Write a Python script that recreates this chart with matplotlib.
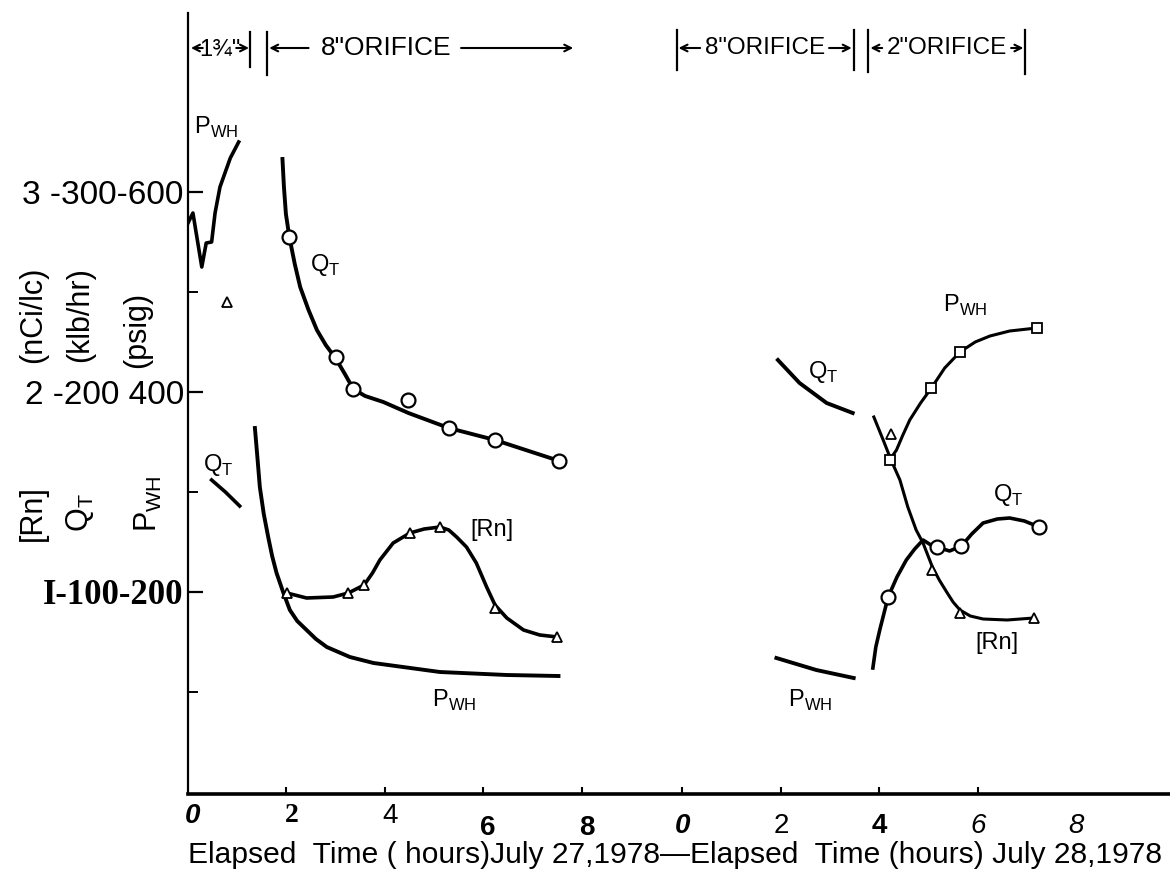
import matplotlib
matplotlib.use("Agg")
import matplotlib.pyplot as plt
from matplotlib import font_manager as fm

avail = {f.name for f in fm.fontManager.ttflist}
SANS = [f for f in ["Liberation Sans Narrow", "Liberation Sans", "DejaVu Sans"] if f in avail]
SERIF = [f for f in ["Liberation Serif", "DejaVu Serif"] if f in avail]
plt.rcParams["font.family"] = SANS
plt.rcParams["mathtext.fontset"] = "custom"

W, H = 1170, 877
DAY2 = 10.05  # position of hour 0 of July 28 on the continuous time axis

# ---------------- July 27 (hours, psig-scale values) ----------------
pwh_early_t = [0.00, 0.10, 0.28, 0.37, 0.48, 0.55, 0.65, 0.86, 1.03]
pwh_early_v = [569, 579, 525, 549, 550, 579, 605, 634, 650]
rn_early_t = [0.79]
rn_early_v = [490]
qt_early_t = [0.48, 0.76, 1.05]
qt_early_v = [312, 300, 286]

qt1_curve_t = [1.92, 1.95, 1.99, 2.06, 2.17, 2.28, 2.45, 2.62, 2.80, 3.01, 3.20, 3.36,
               3.60, 3.97, 4.48, 5.30, 6.24, 7.55]
qt1_curve_v = [633, 605, 578, 555, 528, 505, 482, 462, 447, 433, 417, 403,
               396, 390, 379, 364, 352, 331]
qt1_pts_t = [2.06, 3.01, 3.36, 4.48, 5.30, 6.24, 7.55]
qt1_pts_v = [555, 435, 403, 392, 364, 352, 331]

rn1_curve_t = [2.01, 2.41, 2.95, 3.26, 3.58, 3.75, 3.90, 4.17, 4.51, 4.80, 5.12, 5.30,
               5.46, 5.66, 5.86, 6.07, 6.24, 6.48, 6.82, 7.15, 7.51]
rn1_curve_v = [199, 194, 195, 199, 207, 219, 232, 249, 259, 263, 265, 262,
               255, 245, 229, 205, 187, 174, 162, 157, 155]
rn1_pts_t = [2.01, 3.26, 3.58, 4.51, 5.12, 6.24, 7.51]
rn1_pts_v = [199, 199, 207, 259, 265, 184, 155]

pwh1_curve_t = [1.36, 1.41, 1.46, 1.54, 1.63, 1.71, 1.80, 1.94, 2.07, 2.22, 2.41, 2.60,
                2.82, 3.29, 3.77, 5.12, 6.48, 7.53]
pwh1_curve_v = [364, 335, 305, 278, 255, 236, 219, 199, 182, 171, 162, 153,
                145, 135, 129, 120, 117, 116]

# ---------------- July 28 (hours of that day) ----------------
qt2a_t = [1.94, 2.38, 2.93, 3.46]
qt2a_v = [432, 409, 389, 379]
pwh2a_t = [1.91, 2.72, 3.48]
pwh2a_v = [134, 122, 114]

rn2_curve_t = [3.89, 4.08, 4.24, 4.42, 4.58, 4.75, 4.89, 5.08, 5.22, 5.37, 5.50, 5.64,
               5.85, 6.11, 6.60, 7.14]
rn2_curve_v = [375, 352, 332, 312, 285, 262, 249, 225, 212, 200, 190, 182,
               176, 173, 172, 174]
rn2_pts_t = [4.23, 5.08, 5.64, 7.14]
rn2_pts_v = [358, 222, 179, 174]

pwh2_curve_t = [4.21, 4.35, 4.48, 4.62, 4.84, 5.06, 5.33, 5.64, 5.95, 6.25, 6.65, 7.20]
pwh2_curve_v = [332, 342, 357, 372, 389, 404, 424, 440, 450, 456, 461, 464]
pwh2_pts_t = [4.21, 5.06, 5.64, 7.20]
pwh2_pts_v = [332, 404, 440, 464]

qt2_curve_t = [3.87, 3.93, 4.01, 4.18, 4.36, 4.55, 4.72, 4.89, 5.05, 5.17, 5.43, 5.67,
               5.88, 6.11, 6.40, 6.65, 6.95, 7.25]
qt2_curve_v = [124, 145, 162, 195, 215, 232, 243, 252, 247, 245, 241, 246,
               258, 269, 273, 274, 271, 265]
qt2_pts_t = [4.18, 5.17, 5.67, 7.25]
qt2_pts_v = [195, 245, 246, 265]

# axis labels / ticks
ytick_vals = [200, 400, 600]
ytick_labels = ["I-100-200", "2 -200 400", "3 -300-600"]
yminor_vals = [100, 300, 500]
xtick_day1 = [2, 4, 6, 8]
xtick_day2 = [0, 2, 4, 6]
xlab_day1 = ["0", "2", "4", "6", "8"]
xlab_day2 = ["0", "2", "4", "6", "8"]


def d2(ts):
    return [DAY2 + t for t in ts]


fig = plt.figure(figsize=(W / 100, H / 100), dpi=100)
ax = fig.add_axes([188 / W, 1 - 794 / H, 1 - 188 / W, (794 - 13) / H])
ax.set_xlim(0, (W - 188) / 49.2)
ax.set_ylim(-2, 779)
for s in ("top", "right"):
    ax.spines[s].set_visible(False)
ax.spines["left"].set_linewidth(1.6)
ax.spines["bottom"].set_linewidth(2.6)

K = "black"
mk = dict(color=K, linestyle="none", markerfacecolor="white", markeredgecolor=K, zorder=5)

# July 27 curves
ax.plot(pwh_early_t, pwh_early_v, color=K, lw=2.6)
ax.plot(rn_early_t, rn_early_v, marker="^", markersize=7, markeredgewidth=1.3, **mk)
ax.plot(qt_early_t, qt_early_v, color=K, lw=2.6)
ax.plot(qt1_curve_t, qt1_curve_v, color=K, lw=2.8)
ax.plot(qt1_pts_t, qt1_pts_v, marker="o", markersize=10, markeredgewidth=1.6, **mk)
ax.plot(rn1_curve_t, rn1_curve_v, color=K, lw=2.6)
ax.plot(rn1_pts_t, rn1_pts_v, marker="^", markersize=7, markeredgewidth=1.3, **mk)
ax.plot(pwh1_curve_t, pwh1_curve_v, color=K, lw=2.8)

# July 28 curves
ax.plot(d2(qt2a_t), qt2a_v, color=K, lw=2.8)
ax.plot(d2(pwh2a_t), pwh2a_v, color=K, lw=2.8)
ax.plot(d2(rn2_curve_t), rn2_curve_v, color=K, lw=2.2)
ax.plot(d2(rn2_pts_t), rn2_pts_v, marker="^", markersize=7, markeredgewidth=1.3, **mk)
ax.plot(d2(pwh2_curve_t), pwh2_curve_v, color=K, lw=2.2)
ax.plot(d2(pwh2_pts_t), pwh2_pts_v, marker="s", markersize=7, markeredgewidth=1.3, **mk)
ax.plot(d2(qt2_curve_t), qt2_curve_v, color=K, lw=2.6)
ax.plot(d2(qt2_pts_t), qt2_pts_v, marker="o", markersize=10, markeredgewidth=1.6, **mk)

# y ticks
ax.set_yticks(ytick_vals)
ax.set_yticklabels(ytick_labels, fontsize=24)
ax.set_yticks(yminor_vals, minor=True)
ax.tick_params(axis="y", which="major", direction="in", length=11, width=1.6, pad=3)
ax.tick_params(axis="y", which="minor", direction="in", length=7, width=1.4)
yl = ax.get_yticklabels()
yl[0].set_fontweight("bold")
yl[0].set_family(SERIF)
yl[0].set_fontsize(25)

# x ticks (marks only) and hand-lettered labels
ax.set_xticks(xtick_day1 + d2(xtick_day2))
ax.set_xticklabels([])
ax.tick_params(axis="x", direction="in", length=5, width=1.5)

x1_styles = [dict(style="italic", weight="bold"), dict(family=SERIF, weight="bold"), {},
             dict(weight="bold"), dict(weight="bold")]
x1_y = [-24, -24, -24, -36, -36]
x2_styles = [dict(style="italic", weight="bold"), {}, dict(weight="bold"),
             dict(style="italic"), dict(style="italic")]
for i, lab in enumerate(xlab_day1):
    ax.text(2 * i + 0.1, x1_y[i], lab, ha="center", va="center", fontsize=20,
            clip_on=False, **x1_styles[i])
for i, lab in enumerate(xlab_day2):
    ax.text(DAY2 + 2 * i, -34, lab, ha="center", va="center", fontsize=20,
            clip_on=False, **x2_styles[i])

ax.text(0, -63, "Elapsed  Time ( hours)July 27,1978\u2014Elapsed  Time (hours) July 28,1978",
        ha="left", va="center", fontsize=21.6, clip_on=False)


def ftext(px, py, s, **kw):
    fig.text(px / W, 1 - py / H, s, **kw)


PWH = r"P$_{\mathregular{WH}}$"
QT = r"Q$_{\mathregular{T}}$"

# rotated axis titles
ftext(33, 315, "(nCi/lc)", rotation=90, ha="center", va="center", fontsize=22)
ftext(80, 315, "(klb/hr)", rotation=90, ha="center", va="center", fontsize=22)
ftext(137, 330, "(psig)", rotation=90, ha="center", va="center", fontsize=22)
ftext(33, 513, "[Rn]", rotation=90, ha="center", va="center", fontsize=22)
ftext(80, 513, QT, rotation=90, ha="center", va="center", fontsize=22)
ftext(148, 504, PWH, rotation=90, ha="center", va="center", fontsize=22)

# in-plot curve labels
lab = dict(fontsize=17, ha="left", va="center")
ax.text(0.12, 665, PWH, **lab)
ax.text(0.31, 327, QT, **lab)
ax.text(2.48, 527, QT, **lab)
ax.text(5.73, 262, "[Rn]", **lab)
ax.text(4.95, 92, PWH, **lab)
ax.text(DAY2 + 2.56, 420, QT, **lab)
ax.text(DAY2 + 5.30, 487, PWH, **lab)
ax.text(DAY2 + 6.32, 297, QT, **lab)
ax.text(DAY2 + 5.95, 149, "[Rn]", **lab)
ax.text(DAY2 + 2.14, 92, PWH, **lab)

# orifice brackets at the top
YT = 744
def bar(x, lo=722, hi=760):
    ax.plot([x, x], [lo, hi], color=K, lw=1.6, clip_on=False)

def arrow(x_from, x_to):
    ax.annotate("", xy=(x_to, YT), xytext=(x_from, YT),
                arrowprops=dict(arrowstyle="->", color=K, lw=1.5,
                                shrinkA=0, shrinkB=0, mutation_scale=12),
                annotation_clip=False)

bar(1.26, 725, 760)
bar(1.61, 717, 760)
ax.text(0.64, YT - 2, "1\u00be\"", ha="center", va="center", fontsize=17)
arrow(0.30, 0.06)
arrow(0.98, 1.24)

ax.text(4.03, YT, "8\"ORIFICE", ha="center", va="center", fontsize=19)
arrow(2.45, 1.65)
arrow(5.55, 7.83)

bar(DAY2 - 0.12, 722, 762)
bar(DAY2 + 3.48, 722, 762)
bar(DAY2 + 3.78, 720, 762)
bar(DAY2 + 6.97, 718, 762)
ax.text(DAY2 + 1.67, YT, "8\"ORIFICE", ha="center", va="center", fontsize=17.5)
arrow(DAY2 + 0.36, DAY2 - 0.08)
arrow(DAY2 + 2.98, DAY2 + 3.44)
ax.text(DAY2 + 5.37, YT, "2\"ORIFICE", ha="center", va="center", fontsize=17.5)
arrow(DAY2 + 4.06, DAY2 + 3.82)
arrow(DAY2 + 6.68, DAY2 + 6.93)

fig.savefig("out.png", dpi=100)
